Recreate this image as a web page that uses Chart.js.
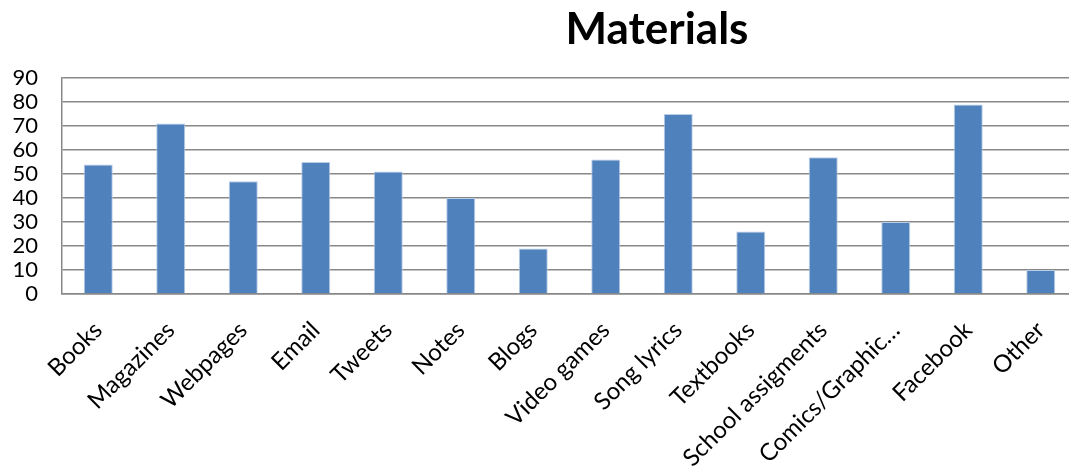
<!DOCTYPE html>
<html>
<head>
<meta charset="utf-8">
<script src="https://cdn.jsdelivr.net/npm/chart.js@4/dist/chart.umd.min.js"></script>
<style>
  html, body { margin: 0; padding: 0; background: #fff; overflow: hidden; }
  #wrap { width: 1077px; height: 470px; }
</style>
</head>
<body>
<div id="wrap"><canvas id="materialsChart"></canvas></div>
<script>
const categories = ["Books", "Magazines", "Webpages", "Email", "Tweets", "Notes", "Blogs",
  "Video games", "Song lyrics", "Textbooks", "School assigments", "Comics/Graphic…", "Facebook", "Other"];
const counts = [54, 71, 47, 55, 51, 40, 19, 56, 75, 26, 57, 30, 79, 10];
const yTicks = [0, 10, 20, 30, 40, 50, 60, 70, 80, 90];
const chartTitle = "Materials";

const FONT = "Lato, 'Open Sans', sans-serif";

// title sits off-centre in the original, so draw it ourselves
const titlePlugin = {
  id: "offsetTitle",
  afterDraw(chart) {
    const ctx = chart.ctx;
    ctx.save();
    ctx.font = "bold 44px " + FONT;
    ctx.fillStyle = "#000";
    ctx.textAlign = "center";
    ctx.textBaseline = "alphabetic";
    ctx.fillText(chartTitle, 657, 44);
    ctx.restore();
  }
};

const ctx = document.getElementById("materialsChart").getContext("2d");
new Chart(ctx, {
  type: "bar",
  data: {
    labels: categories,
    datasets: [{
      data: counts,
      backgroundColor: "#4f81bd",
      borderColor: "#b9cde6",
      borderWidth: 1,
      barPercentage: 0.4,
      categoryPercentage: 1.0
    }]
  },
  options: {
    responsive: true,
    maintainAspectRatio: false,
    animation: false,
    layout: { padding: { top: 78, left: 0, right: 0, bottom: 0 } },
    plugins: {
      legend: { display: false },
      tooltip: { enabled: false },
      title: { display: false }
    },
    scales: {
      x: {
        grid: { display: false, drawTicks: false },
        border: { display: true, color: "#888", width: 1.5 },
        ticks: {
          color: "#000",
          font: { family: FONT, size: 24 },
          minRotation: 45,
          maxRotation: 45,
          padding: 22,
          autoSkip: false
        },
        afterFit(scale) {
          scale.height = 176;
          scale.paddingLeft = 0;
          scale.paddingRight = 0;
        }
      },
      y: {
        min: 0,
        max: 90,
        afterBuildTicks(scale) { scale.ticks = yTicks.map(v => ({ value: v })); },
        grid: { color: "#888", lineWidth: 1.5, drawTicks: false },
        border: { display: true, color: "#888", width: 1.5 },
        ticks: {
          color: "#000",
          font: { family: FONT, size: 22 },
          padding: 24,
          autoSkip: false
        },
        afterFit(scale) { scale.width = 62; }
      }
    }
  },
  plugins: [titlePlugin]
});
</script>
</body>
</html>
